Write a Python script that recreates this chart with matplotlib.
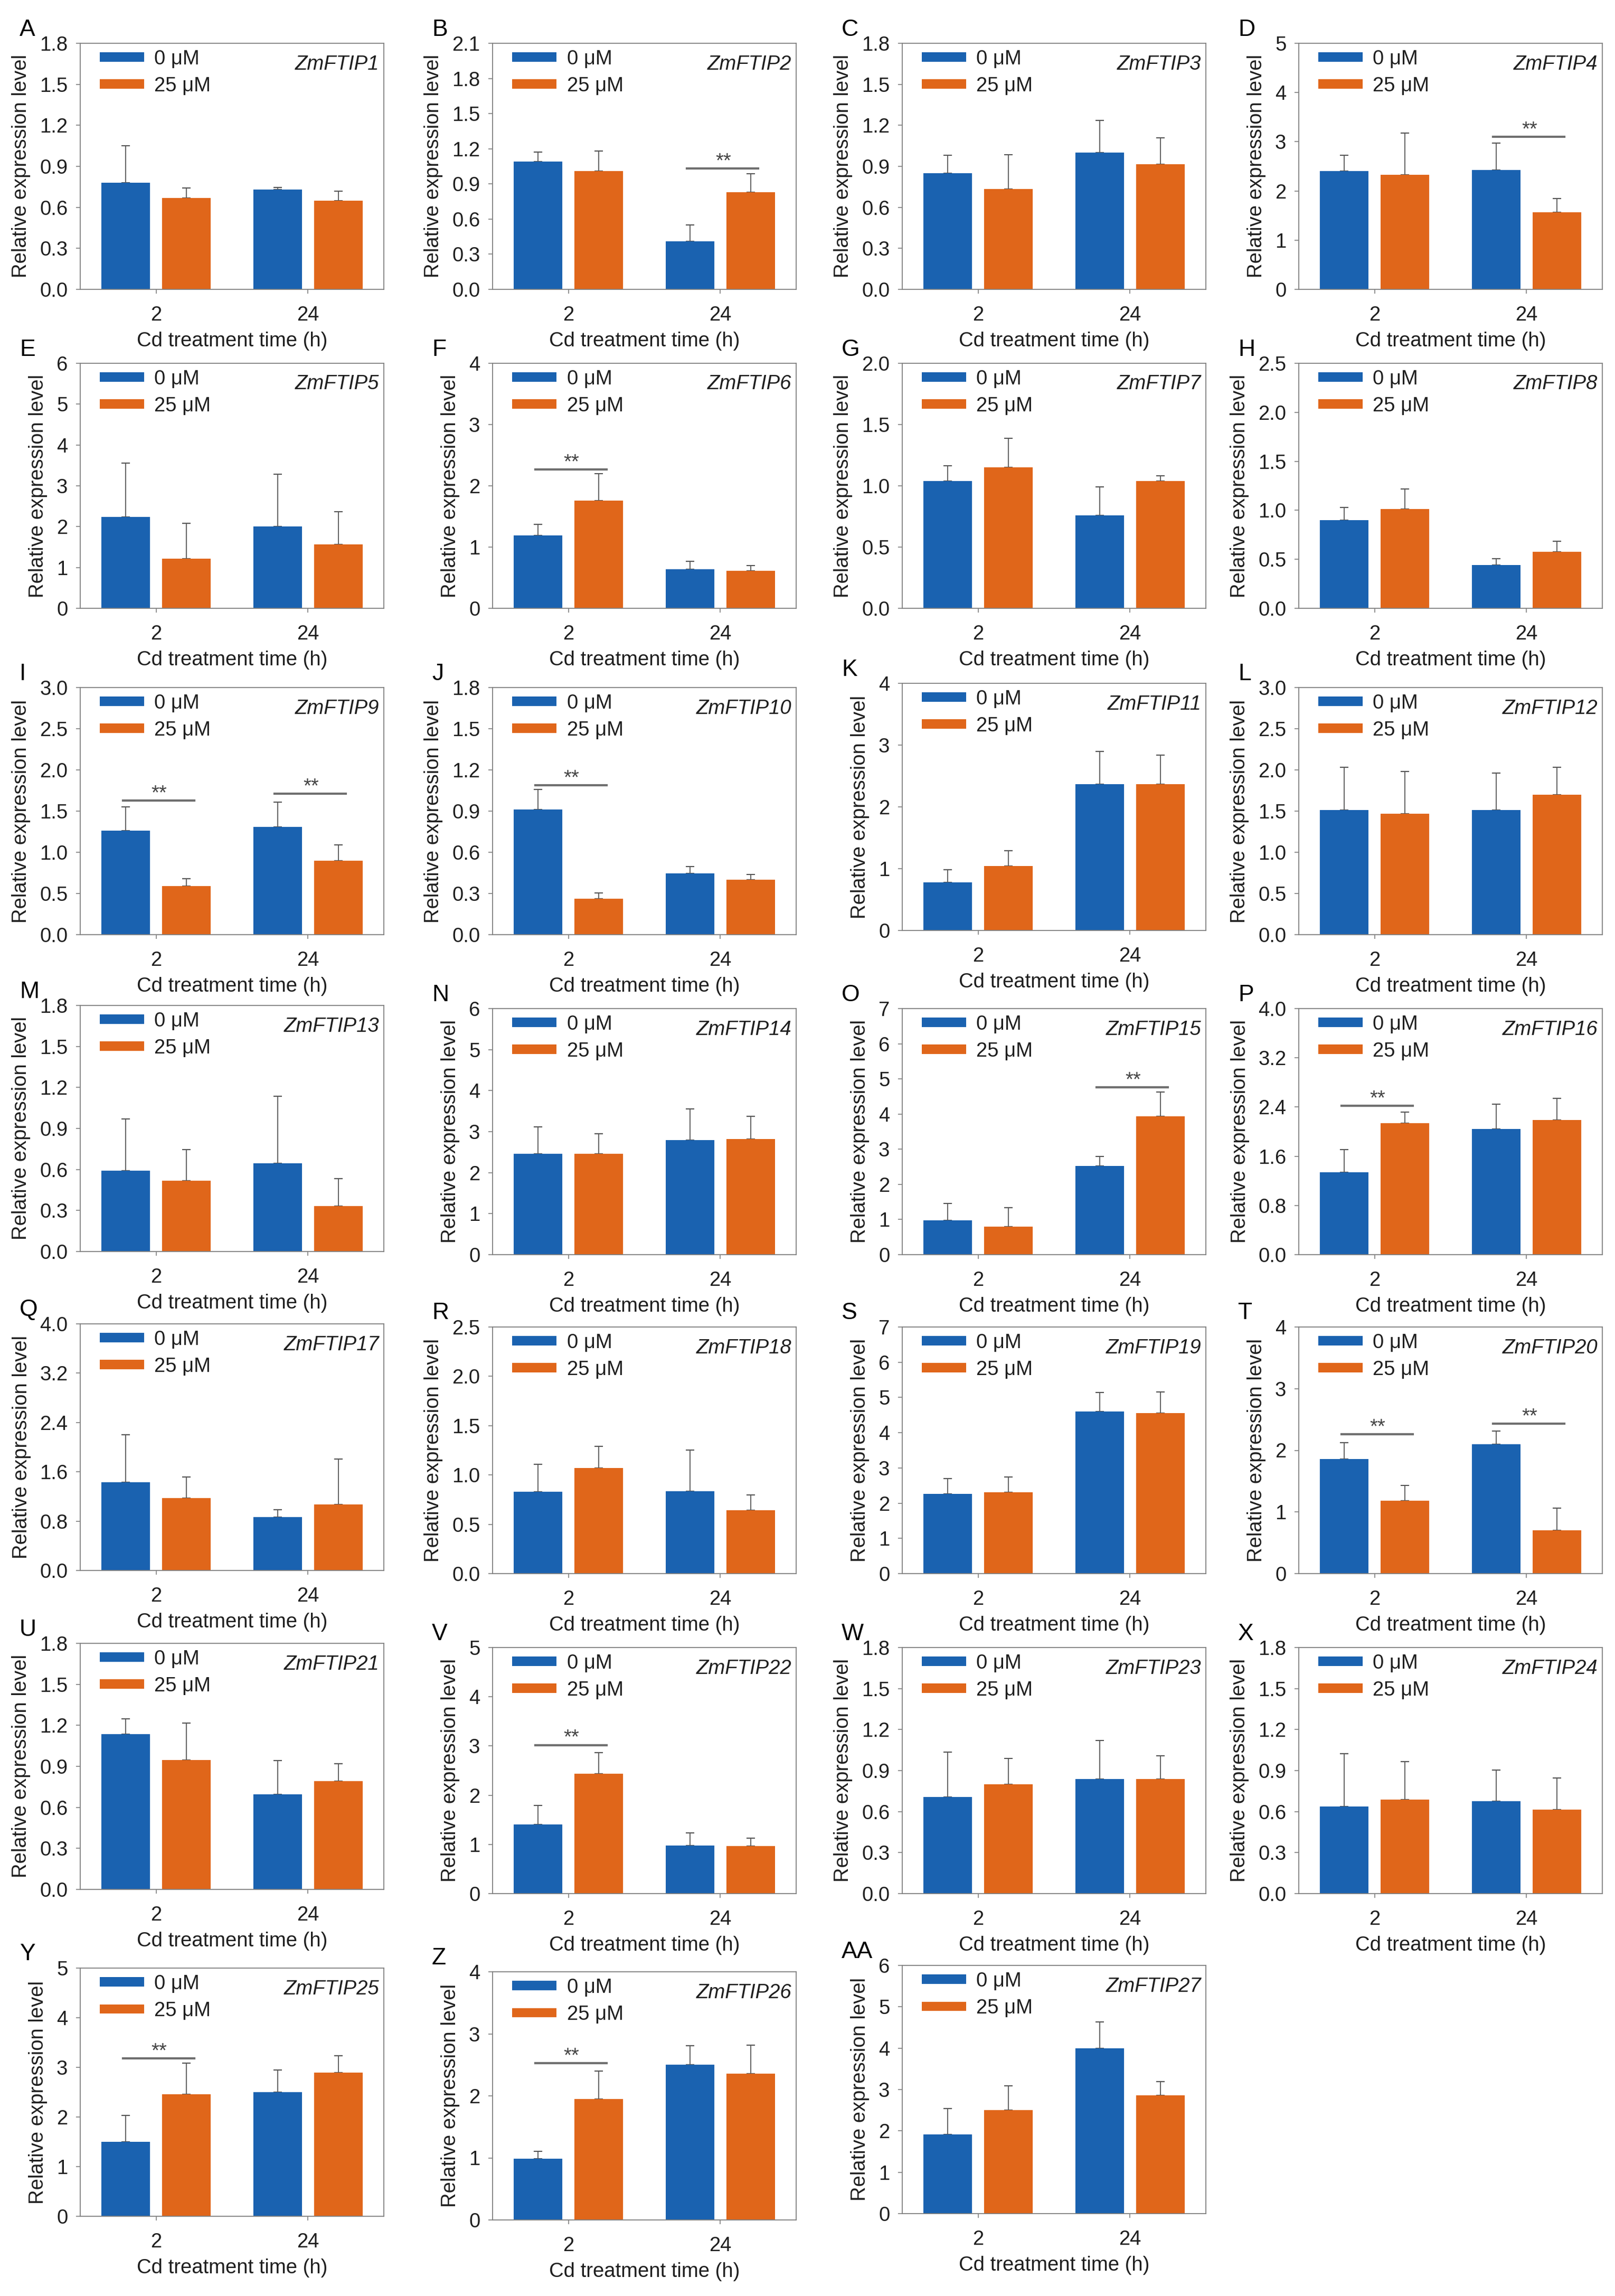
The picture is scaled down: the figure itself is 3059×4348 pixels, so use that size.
import matplotlib
matplotlib.use("Agg")
import matplotlib.pyplot as plt
import numpy as np

plt.rcParams["font.family"] = ["Liberation Sans", "DejaVu Sans"]

letters = ["A", "B", "C", "D", "E", "F", "G", "H", "I", "J", "K", "L", "M",
           "N", "O", "P", "Q", "R", "S", "T", "U", "V", "W", "X", "Y", "Z", "AA"]
genes = ["ZmFTIP1", "ZmFTIP2", "ZmFTIP3", "ZmFTIP4", "ZmFTIP5", "ZmFTIP6",
         "ZmFTIP7", "ZmFTIP8", "ZmFTIP9", "ZmFTIP10", "ZmFTIP11", "ZmFTIP12",
         "ZmFTIP13", "ZmFTIP14", "ZmFTIP15", "ZmFTIP16", "ZmFTIP17", "ZmFTIP18",
         "ZmFTIP19", "ZmFTIP20", "ZmFTIP21", "ZmFTIP22", "ZmFTIP23", "ZmFTIP24",
         "ZmFTIP25", "ZmFTIP26", "ZmFTIP27"]
times = ["2", "24"]
doses = ["0 μM", "25 μM"]

# mean (2 h, 24 h) for 0 uM and 25 uM
mean_0 = [[0.78, 0.73], [1.09, 0.41], [0.85, 1.00], [2.40, 2.42], [2.24, 2.01],
          [1.19, 0.64], [1.04, 0.76], [0.90, 0.44], [1.26, 1.31], [0.91, 0.445],
          [0.78, 2.37], [1.51, 1.51], [0.59, 0.646], [2.46, 2.79], [0.97, 2.52],
          [1.34, 2.04], [1.43, 0.866], [0.83, 0.834], [2.27, 4.60], [1.86, 2.10],
          [1.134, 0.697], [1.41, 0.98], [0.707, 0.84], [0.637, 0.677], [1.50, 2.50],
          [0.99, 2.50], [1.92, 3.99]]
mean_25 = [[0.67, 0.65], [1.01, 0.83], [0.735, 0.915], [2.33, 1.57], [1.21, 1.56],
           [1.76, 0.61], [1.15, 1.04], [1.015, 0.575], [0.59, 0.90], [0.26, 0.40],
           [1.04, 2.37], [1.47, 1.70], [0.516, 0.334], [2.46, 2.82], [0.80, 3.93],
           [2.14, 2.19], [1.17, 1.07], [1.07, 0.64], [2.31, 4.55], [1.18, 0.70],
           [0.946, 0.79], [2.44, 0.97], [0.80, 0.837], [0.688, 0.614], [2.46, 2.89],
           [1.95, 2.36], [2.50, 2.86]]
err_0 = [[0.27, 0.015], [0.08, 0.14], [0.13, 0.235], [0.33, 0.55], [1.32, 1.28],
         [0.18, 0.13], [0.125, 0.23], [0.13, 0.065], [0.29, 0.30], [0.146, 0.053],
         [0.20, 0.53], [0.52, 0.45], [0.38, 0.49], [0.65, 0.77], [0.49, 0.28],
         [0.37, 0.41], [0.77, 0.12], [0.28, 0.42], [0.43, 0.54], [0.26, 0.21],
         [0.115, 0.245], [0.38, 0.25], [0.33, 0.28], [0.385, 0.226], [0.53, 0.45],
         [0.12, 0.31], [0.62, 0.64]]
err_25 = [[0.07, 0.07], [0.17, 0.155], [0.25, 0.195], [0.85, 0.28], [0.87, 0.81],
          [0.44, 0.09], [0.24, 0.04], [0.20, 0.11], [0.09, 0.19], [0.045, 0.04],
          [0.25, 0.47], [0.51, 0.33], [0.23, 0.20], [0.49, 0.55], [0.54, 0.70],
          [0.18, 0.35], [0.35, 0.74], [0.22, 0.16], [0.44, 0.61], [0.25, 0.36],
          [0.27, 0.13], [0.43, 0.16], [0.19, 0.17], [0.277, 0.23], [0.62, 0.34],
          [0.45, 0.46], [0.59, 0.33]]

y_max = [1.8, 2.1, 1.8, 5, 6, 4, 2.0, 2.5, 3.0, 1.8, 4, 3.0, 1.8, 6, 7, 4.0,
         4.0, 2.5, 7, 4, 1.8, 5, 1.8, 1.8, 5, 4, 6]
y_step = [0.3, 0.3, 0.3, 1, 1, 1, 0.5, 0.5, 0.5, 0.3, 1, 0.5, 0.3, 1, 1, 0.8,
          0.8, 0.5, 1, 1, 0.3, 1, 0.3, 0.3, 1, 1, 1]

# significance marks: panel, time group, bar height
sig_panel = ["B", "D", "F", "I", "I", "J", "O", "P", "T", "T", "V", "Y", "Z"]
sig_group = [1, 1, 0, 0, 1, 0, 1, 0, 0, 1, 0, 0, 0]
sig_level = [1.03, 3.1, 2.27, 1.63, 1.71, 1.09, 4.76, 2.42, 2.26, 2.43, 3.02, 3.18, 2.53]

BLUE = "#1a62b0"
ORANGE = "#e0661a"
GREY = "#7f7f7f"
TXT = "#1e1e1e"
FS = 27.5

W, H = 3059, 4348
fig = plt.figure(figsize=(W / 100, H / 100), dpi=100)

col_left = [152, 933, 1709, 2460]
col_w = 575
row_top = [82, 688, 1302, 1910, 2513, 3120, 3730]
row_bot = [548, 1152, 1770, 2376, 2980, 3586, 4200]
shift = {"K": -8, "M": -6, "Q": -6, "U": -8, "Y": -3, "Z": 4, "AA": -8}

x = np.arange(2)
for i, g in enumerate(genes):
    r, c = divmod(i, 4)
    dy = shift.get(letters[i], 0)
    top, bot = row_top[r] + dy, row_bot[r] + dy
    ax = fig.add_axes([col_left[c] / W, 1 - bot / H, col_w / W, (bot - top) / H])

    b0 = ax.bar(x - 0.2, mean_0[i], 0.32, color=BLUE, label=doses[0], zorder=2)
    b1 = ax.bar(x + 0.2, mean_25[i], 0.32, color=ORANGE, label=doses[1], zorder=2)
    ax.errorbar(x - 0.2, mean_0[i], yerr=[[0, 0], err_0[i]], fmt="none",
                ecolor="#555555", elinewidth=1.3, capsize=6, capthick=1.5, zorder=1)
    ax.errorbar(x + 0.2, mean_25[i], yerr=[[0, 0], err_25[i]], fmt="none",
                ecolor="#555555", elinewidth=1.3, capsize=6, capthick=1.5, zorder=1)

    ax.set_xlim(-0.5, 1.5)
    ax.set_ylim(0, y_max[i])
    ticks = np.arange(0, y_max[i] + 1e-6, y_step[i])
    ax.set_yticks(ticks)
    if float(y_step[i]).is_integer():
        ax.set_yticklabels([f"{t:.0f}" for t in ticks])
    else:
        ax.set_yticklabels([f"{t:.1f}" for t in ticks])
    ax.set_xticks(x)
    ax.set_xticklabels(times)

    for s in ax.spines.values():
        s.set_color(GREY)
        s.set_linewidth(1.3)
    ax.tick_params(axis="both", colors=GREY, labelcolor=TXT, labelsize=FS,
                   length=6, width=1.2)
    ax.tick_params(axis="x", pad=16)
    ax.tick_params(axis="y", pad=11)

    ax.set_ylabel("Relative expression level", fontsize=FS, color=TXT, labelpad=12)
    ax.set_xlabel("Cd treatment time (h)", fontsize=FS, color=TXT, labelpad=10)

    ax.legend(handles=[b0, b1], loc="upper left", bbox_to_anchor=(0.065, 0.975),
              frameon=False, fontsize=FS, handlelength=2.2, handleheight=0.33,
              handletextpad=0.5, labelspacing=0.4, borderpad=0, borderaxespad=0,
              labelcolor=TXT)
    ax.text(0.985, 0.915, g, transform=ax.transAxes, ha="right", va="center",
            fontsize=FS, style="italic", color=TXT)

    fig.text((col_left[c] - 115) / W, 1 - (top - 26) / H, letters[i],
             ha="left", va="center", fontsize=32, color="black")

    for p, grp, lv in zip(sig_panel, sig_group, sig_level):
        if p == letters[i]:
            ax.plot([grp - 0.22, grp + 0.25], [lv, lv], color="#6f6f6f", lw=3, zorder=3)
            ax.annotate("**", (grp + 0.02, lv), xytext=(0, 2),
                        textcoords="offset points", ha="center", va="baseline",
                        fontsize=FS, color="#444444")

fig.savefig("out.png", dpi=100, facecolor="white")
